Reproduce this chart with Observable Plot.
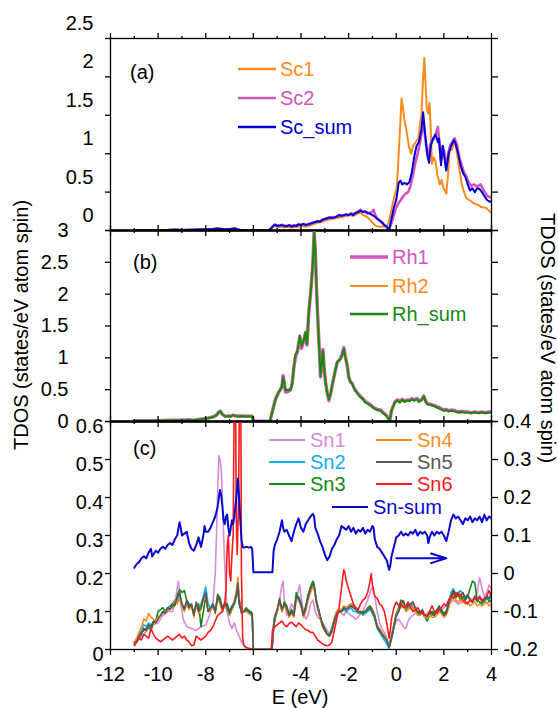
<!DOCTYPE html>
<html>
<head>
<meta charset="utf-8">
<script src="https://cdn.jsdelivr.net/npm/d3@7"></script>
<script src="https://cdn.jsdelivr.net/npm/@observablehq/plot@0.6"></script>
<style>
  html, body { margin: 0; padding: 0; background: #fff; }
  #chart { position: relative; width: 558px; height: 708px; overflow: hidden; }
  #chart svg { position: absolute; left: 0; overflow: visible; }
</style>
</head>
<body>
<div id="chart"></div>
<script>
// ---------- axis ticks ----------
const eDomain = [-12, 4];
const eMajor = [-12, -10, -8, -6, -4, -2, 0, 2, 4];
const eMinor = [-11, -9, -7, -5, -3, -1, 1, 3];
const yTicksA = [0, 0.5, 1, 1.5, 2, 2.5];
const yTicksB = [0, 0.5, 1, 1.5, 2, 2.5, 3];
const yTicksC = [0, 0.1, 0.2, 0.3, 0.4, 0.5, 0.6];
const yTicksCR = [-0.2, -0.1, 0, 0.1, 0.2, 0.3, 0.4];

// ---------- series names ----------
const scNames = ["Sc1", "Sc2", "Sc_sum"];
const rhNames = ["Rh1", "Rh2", "Rh_sum"];
const snNames = ["Sn1", "Sn2", "Sn3", "Sn4", "Sn5", "Sn6"];
const snSumName = "Sn-sum";
const panelTags = ["(a)", "(b)", "(c)"];
const yTitle = "TDOS (states/eV atom spin)";
const xTitle = "E (eV)";

// ---------- panel (a): Sc, [E, TDOS] ----------
const sc1 = [[-11,0],[-10.5,0],[-10,0.002],[-9.5,0.005],[-9.2,0.01],[-9,0.005],[-8.6,0.008],[-8.3,0.01],[-8,0.015],[-7.7,0.02],[-7.5,0.02],[-7.3,0.015],[-7,0.012],[-6.8,0.022],[-6.6,0.008],[-6.5,0],[-5.4,0],[-5.25,0.02],[-5.15,0.06],[-5.05,0.05],[-4.95,0.045],[-4.8,0.05],[-4.7,0.04],[-4.55,0.05],[-4.4,0.035],[-4.25,0.045],[-4.1,0.05],[-3.95,0.06],[-3.8,0.05],[-3.65,0.06],[-3.5,0.08],[-3.4,0.09],[-3.3,0.1],[-3.15,0.11],[-3,0.13],[-2.85,0.14],[-2.7,0.15],[-2.55,0.16],[-2.4,0.17],[-2.25,0.18],[-2.1,0.19],[-1.95,0.2],[-1.8,0.19],[-1.7,0.21],[-1.6,0.22],[-1.5,0.23],[-1.4,0.2],[-1.3,0.19],[-1.2,0.17],[-1.1,0.14],[-1,0.1],[-0.9,0.07],[-0.8,0.055],[-0.7,0.05],[-0.55,0.05],[-0.4,0.06],[-0.32,0.1],[-0.25,0.2],[-0.15,0.35],[-0.05,0.48],[0.02,0.55],[0.07,0.8],[0.12,1.1],[0.17,1.4],[0.22,1.72],[0.28,1.6],[0.34,1.45],[0.4,1.35],[0.46,1.24],[0.54,1.08],[0.63,1],[0.7,1.1],[0.78,1.13],[0.86,1.17],[0.93,1.2],[1,1.4],[1.06,1.5],[1.12,1.95],[1.18,2.25],[1.23,1.9],[1.28,1.6],[1.34,1.52],[1.4,1.66],[1.45,1.3],[1.5,0.87],[1.57,0.95],[1.65,0.9],[1.73,0.72],[1.83,0.6],[1.9,0.66],[1.98,0.55],[2.05,0.52],[2.1,0.48],[2.17,0.7],[2.25,1.09],[2.33,1.05],[2.42,1.15],[2.5,1.1],[2.58,0.95],[2.66,0.78],[2.75,0.6],[2.85,0.5],[2.95,0.42],[3.05,0.4],[3.15,0.38],[3.27,0.35],[3.4,0.34],[3.54,0.31],[3.65,0.3],[3.75,0.3],[3.85,0.27],[4,0.23]];
const sc2 = [[-11,0],[-10,0.002],[-9.6,0.006],[-9.3,0.012],[-9,0.006],[-8.6,0.01],[-8.3,0.012],[-8,0.016],[-7.7,0.02],[-7.5,0.026],[-7.3,0.02],[-7,0.016],[-6.8,0.028],[-6.6,0.01],[-6.5,0],[-5.35,0],[-5.22,0.04],[-5.12,0.07],[-5,0.065],[-4.9,0.06],[-4.8,0.075],[-4.7,0.06],[-4.6,0.06],[-4.5,0.07],[-4.4,0.055],[-4.3,0.065],[-4.2,0.06],[-4.1,0.08],[-4,0.075],[-3.9,0.085],[-3.8,0.075],[-3.7,0.08],[-3.6,0.09],[-3.5,0.1],[-3.4,0.11],[-3.3,0.12],[-3.2,0.12],[-3.1,0.14],[-3,0.15],[-2.9,0.16],[-2.8,0.17],[-2.7,0.17],[-2.6,0.175],[-2.5,0.18],[-2.4,0.2],[-2.3,0.195],[-2.2,0.2],[-2.1,0.21],[-2,0.2],[-1.9,0.22],[-1.8,0.21],[-1.7,0.23],[-1.6,0.25],[-1.5,0.27],[-1.4,0.24],[-1.3,0.24],[-1.2,0.22],[-1.1,0.23],[-1,0.25],[-0.95,0.27],[-0.88,0.2],[-0.8,0.16],[-0.7,0.13],[-0.6,0.1],[-0.5,0.07],[-0.4,0.04],[-0.3,0.01],[-0.2,0.1],[-0.1,0.2],[0,0.3],[0.1,0.36],[0.2,0.4],[0.3,0.45],[0.4,0.48],[0.5,0.5],[0.6,0.58],[0.7,0.72],[0.8,0.88],[0.9,1],[1,1.15],[1.08,1.3],[1.14,1.4],[1.2,1.25],[1.28,1.05],[1.35,0.92],[1.43,1.12],[1.52,1.18],[1.6,1.2],[1.68,1.28],[1.75,1.35],[1.82,1.1],[1.88,0.9],[1.95,1.1],[2.02,1.02],[2.1,0.8],[2.18,1],[2.28,1.12],[2.36,1.15],[2.45,1.2],[2.55,1.12],[2.65,0.95],[2.75,0.85],[2.85,0.75],[2.95,0.7],[3.05,0.62],[3.15,0.58],[3.27,0.6],[3.4,0.57],[3.54,0.6],[3.62,0.55],[3.72,0.5],[3.82,0.45],[3.9,0.44],[4,0.42]];
const scSum = [[-11,0],[-10,0],[-9.6,0.005],[-9.3,0.01],[-9,0.005],[-8.6,0.01],[-8.3,0.012],[-8,0.015],[-7.7,0.02],[-7.5,0.025],[-7.3,0.02],[-7,0.015],[-6.8,0.025],[-6.6,0.01],[-6.5,0],[-5.5,0],[-5.3,0.01],[-5.2,0.05],[-5.1,0.08],[-5,0.06],[-4.9,0.065],[-4.8,0.07],[-4.7,0.06],[-4.6,0.055],[-4.5,0.07],[-4.4,0.05],[-4.3,0.065],[-4.2,0.06],[-4.1,0.08],[-4,0.07],[-3.9,0.085],[-3.8,0.07],[-3.7,0.08],[-3.6,0.09],[-3.5,0.1],[-3.4,0.11],[-3.3,0.12],[-3.2,0.115],[-3.1,0.14],[-3,0.15],[-2.9,0.16],[-2.8,0.17],[-2.7,0.165],[-2.6,0.17],[-2.5,0.18],[-2.4,0.2],[-2.3,0.19],[-2.2,0.2],[-2.1,0.21],[-2,0.2],[-1.9,0.22],[-1.8,0.2],[-1.7,0.23],[-1.6,0.24],[-1.5,0.26],[-1.4,0.24],[-1.3,0.25],[-1.2,0.23],[-1.1,0.22],[-1,0.2],[-0.9,0.18],[-0.8,0.15],[-0.7,0.13],[-0.6,0.11],[-0.5,0.07],[-0.4,0.05],[-0.3,0.01],[-0.2,0.15],[-0.1,0.3],[0,0.4],[0.05,0.5],[0.1,0.62],[0.18,0.65],[0.25,0.6],[0.35,0.62],[0.45,0.6],[0.55,0.63],[0.65,0.75],[0.75,0.95],[0.85,1.1],[0.95,1.15],[1.05,1.3],[1.13,1.54],[1.2,1.3],[1.3,1],[1.38,0.88],[1.45,1.1],[1.55,1.2],[1.65,1.25],[1.75,1.15],[1.8,1.2],[1.88,0.85],[1.95,1.1],[2,1],[2.1,0.78],[2.2,1],[2.3,1.1],[2.42,1.18],[2.5,1.12],[2.6,1],[2.7,0.85],[2.8,0.75],[2.9,0.7],[3,0.6],[3.1,0.52],[3.2,0.55],[3.3,0.5],[3.4,0.55],[3.5,0.54],[3.6,0.5],[3.7,0.45],[3.8,0.4],[3.9,0.38],[4,0.37]];

// ---------- panel (b): Rh ----------
const rh1 = [[-11,0.012],[-10.6,0.014],[-10.2,0.012],[-9.8,0.017],[-9.4,0.022],[-9,0.02],[-8.7,0.027],[-8.5,0.022],[-8.3,0.032],[-8.1,0.042],[-7.9,0.052],[-7.7,0.072],[-7.55,0.1],[-7.45,0.15],[-7.38,0.16],[-7.3,0.11],[-7.17,0.08],[-7.05,0.087],[-6.95,0.082],[-6.85,0.1],[-6.78,0.09],[-6.65,0.082],[-6.5,0.087],[-6.35,0.082],[-6.2,0.084],[-6.05,0.082],[-6,0.005],[-5.3,0.005],[-5.21,0.15],[-5.12,0.28],[-5.07,0.35],[-4.95,0.45],[-4.86,0.5],[-4.8,0.56],[-4.75,0.72],[-4.7,0.6],[-4.65,0.46],[-4.55,0.47],[-4.44,0.5],[-4.37,0.6],[-4.3,0.85],[-4.23,1.02],[-4.15,1.1],[-4.05,1.33],[-3.98,1.15],[-3.9,1.25],[-3.81,1.4],[-3.75,1.2],[-3.67,1.72],[-3.6,2],[-3.56,2.18],[-3.5,2.5],[-3.45,2.97],[-3.4,2.7],[-3.35,2.1],[-3.3,1.66],[-3.24,1.2],[-3.18,0.7],[-3.13,0.9],[-3.08,1.13],[-3.03,0.85],[-2.97,0.62],[-2.9,0.45],[-2.83,0.33],[-2.75,0.45],[-2.65,0.64],[-2.56,0.8],[-2.48,0.93],[-2.4,0.96],[-2.34,0.99],[-2.27,1.06],[-2.2,1.16],[-2.13,1],[-2.06,0.88],[-1.99,0.69],[-1.92,0.62],[-1.85,0.6],[-1.75,0.51],[-1.65,0.46],[-1.5,0.39],[-1.4,0.36],[-1.3,0.31],[-1.2,0.29],[-1.08,0.26],[-0.95,0.22],[-0.8,0.19],[-0.66,0.18],[-0.55,0.14],[-0.45,0.11],[-0.38,0.08],[-0.27,0.02],[-0.2,0.17],[-0.12,0.25],[-0.05,0.31],[0.05,0.34],[0.15,0.31],[0.25,0.35],[0.35,0.32],[0.46,0.34],[0.55,0.33],[0.65,0.36],[0.75,0.34],[0.88,0.36],[0.95,0.32],[1.05,0.34],[1.16,0.4],[1.22,0.33],[1.3,0.28],[1.45,0.27],[1.6,0.25],[1.72,0.23],[1.85,0.21],[2,0.18],[2.1,0.19],[2.2,0.17],[2.35,0.18],[2.45,0.17],[2.6,0.15],[2.75,0.16],[2.9,0.15],[3,0.15],[3.15,0.14],[3.3,0.15],[3.45,0.14],[3.6,0.15],[3.75,0.14],[3.9,0.15],[4,0.15]];
const rh2 = [[-11,0.01],[-10.6,0.012],[-10.2,0.01],[-9.8,0.015],[-9.4,0.02],[-9,0.018],[-8.7,0.025],[-8.5,0.02],[-8.3,0.03],[-8.1,0.04],[-7.9,0.05],[-7.7,0.07],[-7.55,0.1],[-7.45,0.15],[-7.38,0.16],[-7.3,0.11],[-7.17,0.08],[-7.05,0.085],[-6.95,0.08],[-6.85,0.1],[-6.78,0.09],[-6.65,0.08],[-6.5,0.085],[-6.35,0.08],[-6.2,0.082],[-6.05,0.08],[-6,0.003],[-5.3,0.003],[-5.21,0.16],[-5.12,0.29],[-5.07,0.36],[-4.95,0.45],[-4.86,0.52],[-4.8,0.55],[-4.75,0.68],[-4.7,0.6],[-4.65,0.5],[-4.55,0.5],[-4.44,0.49],[-4.37,0.59],[-4.3,0.86],[-4.23,1.07],[-4.15,1.1],[-4.05,1.35],[-3.98,1.2],[-3.9,1.25],[-3.81,1.41],[-3.75,1.23],[-3.67,1.77],[-3.6,2],[-3.56,2.18],[-3.5,2.5],[-3.45,2.95],[-3.4,2.7],[-3.35,2.1],[-3.3,1.66],[-3.24,1.2],[-3.18,0.73],[-3.13,0.9],[-3.08,1.1],[-3.03,0.85],[-2.97,0.63],[-2.9,0.46],[-2.83,0.36],[-2.75,0.46],[-2.65,0.65],[-2.56,0.8],[-2.48,0.93],[-2.4,0.96],[-2.34,0.98],[-2.27,1.05],[-2.2,1.13],[-2.13,1],[-2.06,0.88],[-1.99,0.7],[-1.92,0.62],[-1.85,0.59],[-1.75,0.5],[-1.65,0.45],[-1.5,0.38],[-1.4,0.35],[-1.3,0.3],[-1.2,0.28],[-1.08,0.25],[-0.95,0.21],[-0.8,0.18],[-0.66,0.17],[-0.55,0.13],[-0.45,0.1],[-0.38,0.07],[-0.27,0.02],[-0.2,0.17],[-0.12,0.24],[-0.05,0.3],[0.05,0.33],[0.15,0.3],[0.25,0.34],[0.35,0.31],[0.46,0.33],[0.55,0.32],[0.65,0.35],[0.75,0.33],[0.88,0.35],[0.95,0.31],[1.05,0.33],[1.16,0.39],[1.22,0.32],[1.3,0.27],[1.45,0.26],[1.6,0.24],[1.72,0.22],[1.85,0.2],[2,0.17],[2.1,0.18],[2.2,0.16],[2.35,0.17],[2.45,0.16],[2.6,0.14],[2.75,0.15],[2.9,0.14],[3,0.14],[3.15,0.13],[3.3,0.145],[3.45,0.13],[3.6,0.14],[3.75,0.13],[3.9,0.14],[4,0.14]];
const rhSum = [[-11,0.01],[-10.6,0.012],[-10.2,0.01],[-9.8,0.015],[-9.4,0.02],[-9,0.018],[-8.7,0.025],[-8.5,0.02],[-8.3,0.03],[-8.1,0.04],[-7.9,0.05],[-7.7,0.07],[-7.55,0.1],[-7.45,0.15],[-7.38,0.16],[-7.3,0.11],[-7.17,0.08],[-7.05,0.085],[-6.95,0.08],[-6.85,0.1],[-6.78,0.09],[-6.65,0.08],[-6.5,0.085],[-6.35,0.08],[-6.2,0.082],[-6.05,0.08],[-6,0.003],[-5.3,0.003],[-5.21,0.15],[-5.12,0.28],[-5.07,0.35],[-4.95,0.45],[-4.86,0.51],[-4.8,0.55],[-4.75,0.69],[-4.7,0.6],[-4.65,0.49],[-4.55,0.5],[-4.44,0.49],[-4.37,0.59],[-4.3,0.85],[-4.23,1.06],[-4.15,1.1],[-4.05,1.35],[-3.98,1.19],[-3.9,1.25],[-3.81,1.4],[-3.75,1.22],[-3.67,1.76],[-3.6,2],[-3.56,2.18],[-3.5,2.5],[-3.45,2.96],[-3.4,2.7],[-3.35,2.1],[-3.3,1.66],[-3.24,1.2],[-3.18,0.72],[-3.13,0.9],[-3.08,1.11],[-3.03,0.85],[-2.97,0.62],[-2.9,0.45],[-2.83,0.35],[-2.75,0.45],[-2.65,0.64],[-2.56,0.8],[-2.48,0.93],[-2.4,0.96],[-2.34,0.98],[-2.27,1.05],[-2.2,1.14],[-2.13,1],[-2.06,0.88],[-1.99,0.69],[-1.92,0.62],[-1.85,0.59],[-1.75,0.5],[-1.65,0.45],[-1.5,0.38],[-1.4,0.35],[-1.3,0.3],[-1.2,0.28],[-1.08,0.25],[-0.95,0.21],[-0.8,0.18],[-0.66,0.17],[-0.55,0.13],[-0.45,0.1],[-0.38,0.07],[-0.27,0.02],[-0.2,0.17],[-0.12,0.24],[-0.05,0.3],[0.05,0.33],[0.15,0.3],[0.25,0.34],[0.35,0.31],[0.46,0.33],[0.55,0.32],[0.65,0.35],[0.75,0.33],[0.88,0.35],[0.95,0.31],[1.05,0.33],[1.16,0.4],[1.22,0.32],[1.3,0.27],[1.45,0.26],[1.6,0.24],[1.72,0.22],[1.85,0.2],[2,0.17],[2.1,0.18],[2.2,0.16],[2.35,0.17],[2.45,0.16],[2.6,0.14],[2.75,0.15],[2.9,0.14],[3,0.14],[3.15,0.13],[3.3,0.145],[3.45,0.13],[3.6,0.14],[3.75,0.13],[3.9,0.14],[4,0.14]];

// ---------- panel (c): Sn sites (left axis) ----------
const sn1 = [[-11,0.012],[-10.8,0.03],[-10.6,0.04],[-10.4,0.055],[-10.2,0.065],[-10,0.07],[-9.8,0.09],[-9.6,0.1],[-9.4,0.1],[-9.3,0.12],[-9.2,0.16],[-9.15,0.18],[-9.05,0.12],[-8.95,0.08],[-8.8,0.06],[-8.6,0.055],[-8.4,0.05],[-8.2,0.06],[-8,0.065],[-7.9,0.08],[-7.8,0.1],[-7.7,0.12],[-7.6,0.2],[-7.55,0.3],[-7.5,0.42],[-7.45,0.51],[-7.4,0.5],[-7.35,0.47],[-7.3,0.4],[-7.25,0.3],[-7.2,0.22],[-7.15,0.15],[-7.1,0.1],[-7,0.07],[-6.9,0.055],[-6.8,0.07],[-6.7,0.05],[-6.6,0.035],[-6.5,0.02],[-6.4,0.01],[-6.3,0.005],[-6.2,0],[-5.22,0],[-5.15,0.06],[-5,0.1],[-4.9,0.13],[-4.8,0.17],[-4.75,0.18],[-4.7,0.13],[-4.6,0.09],[-4.5,0.1],[-4.4,0.12],[-4.3,0.11],[-4.2,0.13],[-4.1,0.16],[-4.05,0.17],[-4,0.14],[-3.9,0.1],[-3.8,0.08],[-3.7,0.09],[-3.6,0.12],[-3.5,0.13],[-3.4,0.1],[-3.3,0.085],[-3.2,0.08],[-3.1,0.07],[-3,0.06],[-2.9,0.05],[-2.8,0.04],[-2.7,0.06],[-2.6,0.08],[-2.5,0.09],[-2.4,0.1],[-2.3,0.095],[-2.2,0.09],[-2.1,0.1],[-2,0.095],[-1.9,0.09],[-1.8,0.085],[-1.7,0.08],[-1.6,0.085],[-1.5,0.095],[-1.4,0.1],[-1.3,0.115],[-1.2,0.13],[-1.1,0.15],[-1,0.165],[-0.9,0.14],[-0.8,0.1],[-0.7,0.07],[-0.6,0.055],[-0.5,0.045],[-0.4,0.03],[-0.3,0.01],[-0.2,0.04],[-0.1,0.06],[0,0.075],[0.1,0.08],[0.2,0.07],[0.3,0.06],[0.4,0.055],[0.5,0.075],[0.6,0.085],[0.8,0.095],[1,0.1],[1.2,0.09],[1.4,0.1],[1.6,0.095],[1.8,0.1],[2,0.11],[2.2,0.12],[2.4,0.13],[2.6,0.12],[2.8,0.125],[3,0.14],[3.2,0.13],[3.4,0.15],[3.5,0.19],[3.6,0.16],[3.7,0.14],[3.8,0.15],[3.9,0.17],[4,0.16]];
const sn2 = [[-11,0.018],[-10.9,0.025],[-10.8,0.04],[-10.7,0.05],[-10.6,0.065],[-10.5,0.06],[-10.4,0.07],[-10.3,0.065],[-10.2,0.07],[-10.1,0.075],[-10,0.085],[-9.9,0.09],[-9.8,0.1],[-9.7,0.1],[-9.6,0.11],[-9.5,0.115],[-9.4,0.12],[-9.3,0.13],[-9.2,0.125],[-9.1,0.14],[-9,0.12],[-8.9,0.11],[-8.8,0.125],[-8.7,0.11],[-8.6,0.115],[-8.5,0.095],[-8.4,0.12],[-8.3,0.105],[-8.2,0.12],[-8.1,0.14],[-8,0.165],[-7.9,0.12],[-7.8,0.11],[-7.7,0.12],[-7.6,0.105],[-7.5,0.135],[-7.4,0.125],[-7.3,0.11],[-7.2,0.12],[-7.1,0.1],[-7,0.09],[-6.9,0.105],[-6.8,0.12],[-6.7,0.14],[-6.65,0.165],[-6.6,0.125],[-6.5,0.1],[-6.4,0.1],[-6.3,0.1],[-6.2,0.105],[-6.1,0.095],[-6.05,0.09],[-6,0],[-5.22,0],[-5.15,0.055],[-5.1,0.08],[-5,0.1],[-4.9,0.125],[-4.8,0.11],[-4.7,0.115],[-4.6,0.105],[-4.5,0.09],[-4.4,0.095],[-4.3,0.095],[-4.2,0.135],[-4.1,0.14],[-4,0.125],[-3.9,0.095],[-3.8,0.105],[-3.7,0.135],[-3.6,0.155],[-3.5,0.17],[-3.45,0.165],[-3.35,0.13],[-3.2,0.09],[-3.1,0.06],[-3,0.05],[-2.9,0.04],[-2.8,0.035],[-2.7,0.045],[-2.6,0.07],[-2.5,0.09],[-2.4,0.1],[-2.3,0.1],[-2.2,0.105],[-2.1,0.1],[-2,0.105],[-1.9,0.11],[-1.8,0.1],[-1.7,0.1],[-1.6,0.095],[-1.5,0.1],[-1.4,0.09],[-1.3,0.095],[-1.2,0.1],[-1.1,0.105],[-1,0.095],[-0.9,0.08],[-0.8,0.055],[-0.7,0.045],[-0.6,0.035],[-0.5,0.025],[-0.4,0.015],[-0.3,0.003],[-0.2,0.025],[-0.1,0.055],[0,0.085],[0.1,0.1],[0.2,0.115],[0.3,0.12],[0.4,0.1],[0.5,0.11],[0.6,0.115],[0.7,0.12],[0.8,0.105],[0.9,0.095],[1,0.09],[1.1,0.1],[1.2,0.085],[1.3,0.085],[1.4,0.095],[1.5,0.09],[1.6,0.09],[1.7,0.1],[1.8,0.105],[1.9,0.1],[2,0.09],[2.1,0.1],[2.2,0.125],[2.3,0.15],[2.4,0.16],[2.5,0.145],[2.6,0.15],[2.7,0.155],[2.8,0.145],[2.9,0.14],[3,0.14],[3.1,0.13],[3.2,0.13],[3.3,0.135],[3.4,0.125],[3.5,0.135],[3.6,0.13],[3.7,0.125],[3.8,0.135],[3.9,0.13],[4,0.14]];
const sn3 = [[-11,0.02],[-10.9,0.02],[-10.8,0.03],[-10.7,0.045],[-10.6,0.05],[-10.5,0.055],[-10.4,0.06],[-10.3,0.05],[-10.2,0.07],[-10.1,0.075],[-10,0.1],[-9.9,0.105],[-9.8,0.11],[-9.7,0.1],[-9.6,0.105],[-9.5,0.11],[-9.4,0.12],[-9.3,0.115],[-9.2,0.14],[-9.1,0.158],[-9,0.15],[-8.9,0.155],[-8.8,0.13],[-8.7,0.12],[-8.6,0.11],[-8.5,0.1],[-8.4,0.11],[-8.3,0.12],[-8.2,0.06],[-8.1,0.1],[-8,0.14],[-7.9,0.1],[-7.8,0.105],[-7.7,0.12],[-7.6,0.095],[-7.5,0.145],[-7.4,0.135],[-7.3,0.11],[-7.2,0.115],[-7.1,0.12],[-7,0.1],[-6.9,0.115],[-6.8,0.125],[-6.7,0.15],[-6.65,0.165],[-6.6,0.12],[-6.5,0.1],[-6.4,0.1],[-6.3,0.11],[-6.2,0.1],[-6.1,0.1],[-6.05,0.095],[-6,0],[-5.22,0],[-5.15,0.065],[-5.1,0.09],[-5,0.1],[-4.9,0.135],[-4.8,0.1],[-4.7,0.125],[-4.6,0.115],[-4.5,0.09],[-4.4,0.105],[-4.3,0.09],[-4.2,0.15],[-4.1,0.13],[-4,0.115],[-3.9,0.09],[-3.8,0.115],[-3.7,0.145],[-3.6,0.165],[-3.5,0.18],[-3.45,0.172],[-3.35,0.12],[-3.2,0.085],[-3.1,0.07],[-3,0.055],[-2.9,0.04],[-2.8,0.04],[-2.7,0.055],[-2.6,0.08],[-2.5,0.1],[-2.4,0.105],[-2.3,0.1],[-2.2,0.11],[-2.1,0.11],[-2,0.115],[-1.9,0.12],[-1.8,0.115],[-1.7,0.11],[-1.6,0.1],[-1.5,0.095],[-1.4,0.1],[-1.3,0.1],[-1.2,0.11],[-1.1,0.115],[-1,0.105],[-0.9,0.09],[-0.8,0.06],[-0.7,0.05],[-0.6,0.045],[-0.5,0.035],[-0.4,0.025],[-0.3,0.01],[-0.2,0.035],[-0.1,0.065],[0,0.095],[0.1,0.11],[0.2,0.13],[0.3,0.125],[0.4,0.105],[0.5,0.12],[0.6,0.115],[0.7,0.11],[0.8,0.1],[0.9,0.095],[1,0.1],[1.1,0.095],[1.2,0.085],[1.3,0.075],[1.4,0.09],[1.5,0.1],[1.6,0.095],[1.7,0.1],[1.8,0.115],[1.9,0.105],[2,0.095],[2.1,0.1],[2.2,0.115],[2.3,0.135],[2.4,0.15],[2.5,0.135],[2.6,0.145],[2.7,0.13],[2.8,0.14],[2.9,0.13],[3,0.14],[3.1,0.16],[3.2,0.18],[3.3,0.175],[3.4,0.13],[3.5,0.125],[3.6,0.12],[3.7,0.13],[3.8,0.14],[3.9,0.125],[4,0.13]];
const sn4 = [[-11,0.02],[-10.9,0.03],[-10.8,0.045],[-10.7,0.06],[-10.6,0.08],[-10.5,0.075],[-10.4,0.095],[-10.3,0.085],[-10.2,0.08],[-10.1,0.075],[-10,0.085],[-9.9,0.09],[-9.8,0.095],[-9.7,0.1],[-9.6,0.1],[-9.5,0.11],[-9.4,0.11],[-9.3,0.13],[-9.2,0.12],[-9.1,0.135],[-9,0.115],[-8.9,0.1],[-8.8,0.12],[-8.7,0.105],[-8.6,0.12],[-8.5,0.085],[-8.4,0.12],[-8.3,0.095],[-8.2,0.105],[-8.1,0.13],[-8,0.145],[-7.9,0.1],[-7.8,0.105],[-7.7,0.11],[-7.6,0.1],[-7.5,0.13],[-7.4,0.12],[-7.3,0.1],[-7.2,0.12],[-7.1,0.105],[-7,0.09],[-6.9,0.105],[-6.8,0.125],[-6.7,0.16],[-6.65,0.19],[-6.6,0.14],[-6.5,0.1],[-6.4,0.1],[-6.3,0.1],[-6.2,0.095],[-6.1,0.09],[-6.05,0.085],[-6,0],[-5.22,0],[-5.15,0.06],[-5.1,0.085],[-5,0.1],[-4.9,0.125],[-4.8,0.1],[-4.7,0.115],[-4.6,0.105],[-4.5,0.085],[-4.4,0.095],[-4.3,0.085],[-4.2,0.13],[-4.1,0.13],[-4,0.115],[-3.9,0.085],[-3.8,0.1],[-3.7,0.13],[-3.6,0.15],[-3.5,0.165],[-3.45,0.16],[-3.35,0.12],[-3.2,0.085],[-3.1,0.06],[-3,0.05],[-2.9,0.04],[-2.8,0.035],[-2.7,0.05],[-2.6,0.08],[-2.5,0.1],[-2.4,0.105],[-2.3,0.105],[-2.2,0.115],[-2.1,0.11],[-2,0.115],[-1.9,0.12],[-1.8,0.11],[-1.7,0.105],[-1.6,0.1],[-1.5,0.1],[-1.4,0.095],[-1.3,0.1],[-1.2,0.105],[-1.1,0.11],[-1,0.1],[-0.9,0.085],[-0.8,0.065],[-0.7,0.055],[-0.6,0.045],[-0.5,0.035],[-0.4,0.025],[-0.3,0.012],[-0.2,0.035],[-0.1,0.065],[0,0.09],[0.1,0.105],[0.2,0.11],[0.3,0.12],[0.4,0.1],[0.5,0.105],[0.6,0.11],[0.7,0.115],[0.8,0.1],[0.9,0.09],[1,0.09],[1.1,0.095],[1.2,0.085],[1.3,0.085],[1.4,0.09],[1.5,0.085],[1.6,0.085],[1.7,0.09],[1.8,0.1],[1.9,0.095],[2,0.085],[2.1,0.09],[2.2,0.11],[2.3,0.13],[2.4,0.14],[2.5,0.13],[2.6,0.125],[2.7,0.13],[2.8,0.125],[2.9,0.12],[3,0.125],[3.1,0.115],[3.2,0.12],[3.3,0.125],[3.4,0.115],[3.5,0.12],[3.6,0.115],[3.7,0.12],[3.8,0.125],[3.9,0.115],[4,0.12]];
const sn5 = [[-11,0.015],[-10.9,0.02],[-10.8,0.035],[-10.7,0.04],[-10.6,0.055],[-10.5,0.05],[-10.4,0.065],[-10.3,0.06],[-10.2,0.075],[-10.1,0.07],[-10,0.08],[-9.9,0.09],[-9.8,0.1],[-9.7,0.095],[-9.6,0.11],[-9.5,0.105],[-9.4,0.115],[-9.3,0.12],[-9.2,0.135],[-9.1,0.15],[-9,0.12],[-8.9,0.105],[-8.8,0.13],[-8.7,0.11],[-8.6,0.12],[-8.5,0.09],[-8.4,0.125],[-8.3,0.1],[-8.2,0.11],[-8.1,0.135],[-8,0.15],[-7.9,0.1],[-7.8,0.11],[-7.7,0.115],[-7.6,0.1],[-7.5,0.14],[-7.4,0.13],[-7.3,0.105],[-7.2,0.125],[-7.1,0.11],[-7,0.095],[-6.9,0.11],[-6.8,0.12],[-6.7,0.15],[-6.65,0.175],[-6.6,0.13],[-6.5,0.095],[-6.4,0.1],[-6.3,0.105],[-6.2,0.1],[-6.1,0.095],[-6.05,0.09],[-6,0],[-5.22,0],[-5.15,0.06],[-5.1,0.085],[-5,0.105],[-4.9,0.13],[-4.8,0.105],[-4.7,0.12],[-4.6,0.11],[-4.5,0.09],[-4.4,0.1],[-4.3,0.09],[-4.2,0.14],[-4.1,0.135],[-4,0.12],[-3.9,0.09],[-3.8,0.11],[-3.7,0.14],[-3.6,0.16],[-3.5,0.175],[-3.45,0.168],[-3.35,0.125],[-3.2,0.09],[-3.1,0.065],[-3,0.05],[-2.9,0.04],[-2.8,0.035],[-2.7,0.05],[-2.6,0.075],[-2.5,0.095],[-2.4,0.1],[-2.3,0.1],[-2.2,0.11],[-2.1,0.105],[-2,0.11],[-1.9,0.115],[-1.8,0.11],[-1.7,0.105],[-1.6,0.1],[-1.5,0.1],[-1.4,0.095],[-1.3,0.1],[-1.2,0.105],[-1.1,0.11],[-1,0.1],[-0.9,0.085],[-0.8,0.06],[-0.7,0.05],[-0.6,0.04],[-0.5,0.032],[-0.4,0.025],[-0.3,0.006],[-0.2,0.03],[-0.1,0.06],[0,0.09],[0.1,0.1],[0.2,0.12],[0.3,0.128],[0.4,0.11],[0.5,0.115],[0.6,0.12],[0.7,0.125],[0.8,0.11],[0.9,0.1],[1,0.095],[1.1,0.105],[1.2,0.09],[1.3,0.088],[1.4,0.1],[1.5,0.095],[1.6,0.09],[1.7,0.105],[1.8,0.11],[1.9,0.1],[2,0.09],[2.1,0.095],[2.2,0.12],[2.3,0.14],[2.4,0.155],[2.5,0.14],[2.6,0.15],[2.7,0.14],[2.8,0.15],[2.9,0.135],[3,0.145],[3.1,0.13],[3.2,0.125],[3.3,0.14],[3.4,0.13],[3.5,0.14],[3.6,0.125],[3.7,0.13],[3.8,0.14],[3.9,0.135],[4,0.15]];
const sn6 = [[-11,0.01],[-10.9,0.02],[-10.8,0.03],[-10.7,0.025],[-10.6,0.04],[-10.5,0.035],[-10.4,0.03],[-10.3,0.055],[-10.2,0.04],[-10.1,0.03],[-10,0.025],[-9.9,0.02],[-9.8,0.025],[-9.7,0.03],[-9.6,0.035],[-9.5,0.03],[-9.4,0.025],[-9.3,0.03],[-9.2,0.035],[-9.1,0.04],[-9,0.03],[-8.9,0.035],[-8.8,0.025],[-8.7,0.02],[-8.6,0.01],[-8.5,0.012],[-8.4,0.035],[-8.3,0.03],[-8.2,0.025],[-8.1,0.03],[-8,0.035],[-7.9,0.045],[-7.8,0.05],[-7.7,0.06],[-7.6,0.075],[-7.5,0.09],[-7.4,0.095],[-7.3,0.1],[-7.2,0.12],[-7.15,0.16],[-7.1,0.27],[-7.05,0.3],[-7,0.2],[-6.95,0.18],[-6.9,0.25],[-6.85,0.3],[-6.8,0.7],[-6.75,0.7],[-6.72,0.35],[-6.68,0.25],[-6.62,0.4],[-6.58,0.7],[-6.53,0.7],[-6.5,0.2],[-6.45,0.03],[-6.4,0.01],[-6.3,0.005],[-6,0],[-5.25,0],[-5.2,0.05],[-5.1,0.06],[-5,0.065],[-4.9,0.07],[-4.8,0.075],[-4.7,0.065],[-4.6,0.06],[-4.5,0.068],[-4.4,0.072],[-4.3,0.066],[-4.2,0.06],[-4.1,0.07],[-4,0.065],[-3.9,0.058],[-3.8,0.052],[-3.7,0.05],[-3.6,0.045],[-3.5,0.045],[-3.4,0.035],[-3.3,0.025],[-3.2,0.02],[-3.1,0.015],[-3,0.012],[-2.9,0.01],[-2.8,0.012],[-2.7,0.02],[-2.6,0.05],[-2.5,0.08],[-2.4,0.11],[-2.3,0.16],[-2.25,0.19],[-2.2,0.21],[-2.15,0.2],[-2.1,0.18],[-2,0.16],[-1.9,0.14],[-1.8,0.12],[-1.7,0.11],[-1.6,0.105],[-1.5,0.12],[-1.4,0.13],[-1.3,0.135],[-1.2,0.15],[-1.1,0.18],[-1.05,0.2],[-1,0.17],[-0.9,0.14],[-0.8,0.135],[-0.7,0.12],[-0.6,0.115],[-0.5,0.1],[-0.4,0.07],[-0.3,0.03],[-0.25,0.05],[-0.2,0.08],[-0.1,0.11],[0,0.125],[0.1,0.115],[0.2,0.12],[0.3,0.11],[0.4,0.115],[0.5,0.125],[0.6,0.11],[0.7,0.1],[0.8,0.105],[0.9,0.11],[1,0.1],[1.1,0.095],[1.2,0.09],[1.3,0.088],[1.4,0.1],[1.5,0.115],[1.6,0.1],[1.7,0.095],[1.8,0.105],[1.9,0.11],[2,0.12],[2.1,0.115],[2.2,0.13],[2.3,0.14],[2.4,0.135],[2.5,0.15],[2.6,0.14],[2.7,0.145],[2.8,0.13],[2.9,0.125],[3,0.12],[3.1,0.13],[3.2,0.125],[3.3,0.135],[3.4,0.13],[3.5,0.14],[3.6,0.13],[3.7,0.135],[3.8,0.14],[3.9,0.155],[4,0.14]];

// ---------- panel (c): Sn sum (right axis) ----------
const snSum = [[-11,0.015],[-10.9,0.025],[-10.8,0.03],[-10.7,0.04],[-10.6,0.045],[-10.5,0.04],[-10.4,0.055],[-10.3,0.065],[-10.25,0.045],[-10.2,0.05],[-10.1,0.06],[-10,0.055],[-9.9,0.065],[-9.8,0.07],[-9.7,0.065],[-9.6,0.075],[-9.5,0.08],[-9.4,0.075],[-9.3,0.09],[-9.2,0.1],[-9.1,0.135],[-9.05,0.12],[-9,0.1],[-8.9,0.105],[-8.8,0.11],[-8.7,0.08],[-8.6,0.065],[-8.5,0.06],[-8.4,0.075],[-8.3,0.095],[-8.2,0.07],[-8.1,0.1],[-8.05,0.125],[-8,0.11],[-7.9,0.11],[-7.8,0.12],[-7.7,0.135],[-7.6,0.15],[-7.5,0.175],[-7.45,0.2],[-7.4,0.22],[-7.35,0.205],[-7.3,0.175],[-7.25,0.14],[-7.2,0.13],[-7.15,0.15],[-7.1,0.155],[-7.05,0.12],[-7,0.1],[-6.95,0.12],[-6.9,0.14],[-6.85,0.13],[-6.8,0.15],[-6.75,0.18],[-6.7,0.21],[-6.65,0.25],[-6.6,0.2],[-6.55,0.14],[-6.5,0.09],[-6.45,0.07],[-6.4,0.068],[-6.3,0.07],[-6.2,0.068],[-6.1,0.07],[-6.05,0.065],[-6,0.003],[-5.2,0.003],[-5.15,0.06],[-5.1,0.075],[-5,0.09],[-4.9,0.11],[-4.8,0.14],[-4.75,0.12],[-4.7,0.11],[-4.6,0.115],[-4.5,0.1],[-4.4,0.085],[-4.3,0.11],[-4.2,0.13],[-4.1,0.145],[-4,0.12],[-3.9,0.11],[-3.8,0.13],[-3.7,0.14],[-3.6,0.15],[-3.5,0.157],[-3.45,0.15],[-3.4,0.12],[-3.3,0.105],[-3.2,0.085],[-3.1,0.07],[-3,0.05],[-2.9,0.035],[-2.8,0.045],[-2.7,0.065],[-2.6,0.075],[-2.5,0.09],[-2.4,0.1],[-2.3,0.125],[-2.2,0.12],[-2.1,0.115],[-2,0.125],[-1.9,0.11],[-1.8,0.12],[-1.7,0.105],[-1.6,0.115],[-1.5,0.11],[-1.4,0.12],[-1.3,0.105],[-1.2,0.115],[-1.1,0.11],[-1,0.125],[-0.95,0.12],[-0.9,0.09],[-0.8,0.07],[-0.7,0.065],[-0.6,0.055],[-0.5,0.045],[-0.4,0.035],[-0.3,0.01],[-0.25,0.02],[-0.2,0.045],[-0.1,0.07],[0,0.095],[0.1,0.1],[0.2,0.11],[0.3,0.1],[0.4,0.105],[0.5,0.1],[0.6,0.11],[0.7,0.105],[0.8,0.115],[0.9,0.1],[1,0.11],[1.1,0.105],[1.2,0.11],[1.3,0.1],[1.35,0.08],[1.4,0.095],[1.5,0.11],[1.6,0.1],[1.7,0.11],[1.8,0.105],[1.9,0.11],[2,0.1],[2.1,0.085],[2.2,0.11],[2.3,0.14],[2.4,0.155],[2.5,0.145],[2.6,0.15],[2.7,0.14],[2.8,0.13],[2.9,0.145],[3,0.14],[3.1,0.15],[3.2,0.135],[3.3,0.145],[3.4,0.14],[3.5,0.15],[3.6,0.135],[3.7,0.155],[3.8,0.14],[3.9,0.15],[4,0.145]];
// arrow telling that Sn-sum is read on the right axis
const snSumArrow = [{x1: 0, x2: 2.1, y: 0.04}];

// ---------- styles ----------
const FONT = '"Liberation Sans", Arial, Helvetica, sans-serif';
const FS = 20;
const colors = {
  orange: "#ff8a1c", magenta: "#d553c0", blue: "#0000d4", green: "#138a13",
  plum: "#d88bd9", cyan: "#12aeea", gray: "#575757", red: "#ff1a1a", sumBlue: "#0a0acc"
};
const scColors = [colors.orange, colors.magenta, colors.blue];
const scWidths = [2, 2.6, 2];
const rhColors = [colors.magenta, colors.orange, colors.green];
const rhWidths = [3.4, 2, 2];
const snColors = [colors.plum, colors.cyan, colors.green, colors.orange, colors.gray, colors.red];

const W = 558, H = 708, ML = 110, MR = 67;
const chart = document.getElementById("chart");

const pair = {x: d => d[0], y: d => d[1]};

function xTicks(anchor) {
  return [
    Plot.axisX({anchor, ticks: eMajor, tickSize: 6, tickFormat: () => "", strokeWidth: 1.3, label: null}),
    Plot.axisX({anchor, ticks: eMinor, tickSize: 3, tickFormat: () => "", strokeWidth: 1.3, label: null})
  ];
}
function yTicks(ticks, anchor, size) {
  return Plot.axisY({anchor, ticks, tickSize: size, tickFormat: () => "", strokeWidth: 1.3, label: null});
}
function yLabels(ticks, anchor, pad, dy) {
  return Plot.axisY({anchor, ticks, tickSize: 0, tickPadding: pad, dy, tickFormat: d => String(d),
    fontSize: FS, fontFamily: FONT, label: null});
}

function addPanel(top, height, marginTop, marginBottom, yDomain, marks, xAxis = true) {
  const svg = Plot.plot({
    width: W, height, marginLeft: ML, marginRight: MR, marginTop, marginBottom,
    x: xAxis ? {domain: eDomain, label: null} : {domain: eDomain, label: null, axis: null},
    y: {domain: yDomain, label: null},
    style: {background: "transparent", overflow: "visible", fontFamily: FONT, color: "#000"},
    marks
  });
  svg.style.top = top + "px";
  chart.appendChild(svg);
}

// panel (a)
addPanel(0, 242, 38, 12, [0, 2.5], [
  ...[sc1, sc2, scSum].map((s, i) => Plot.line(s, {...pair, stroke: scColors[i], strokeWidth: scWidths[i], clip: true})),
  Plot.frame({strokeWidth: 1.3}),
  Plot.ruleY([0], {strokeWidth: 2.6}),
  ...xTicks("top"), ...xTicks("bottom"),
  yTicks(yTicksA, "left", 5), yTicks(yTicksA, "right", 6),
  yLabels(yTicksA, "left", 17, -15)
]);

// panel (b)
addPanel(218, 215, 12, 12, [0, 3], [
  ...[rh1, rh2, rhSum].map((s, i) => Plot.line(s, {...pair, stroke: rhColors[i], strokeWidth: rhWidths[i], clip: true})),
  Plot.frame({strokeWidth: 1.3}),
  Plot.ruleY([0], {strokeWidth: 2.6}),
  ...xTicks("top"), ...xTicks("bottom"),
  yTicks(yTicksB, "left", 5), yTicks(yTicksB, "right", 6),
  yLabels(yTicksB, "left", 42, 0)
]);

// panel (c), left axis: individual Sn sites
addPanel(409, 299, 12, 59, [0, 0.6], [
  ...[sn1, sn2, sn3, sn4, sn5, sn6].map((s, i) => Plot.line(s, {...pair, stroke: snColors[i], strokeWidth: 1.6, clip: true})),
  Plot.frame({strokeWidth: 1.3}),
  ...xTicks("top"), ...xTicks("bottom"),
  Plot.axisX({anchor: "bottom", ticks: eMajor, tickSize: 0, tickPadding: 17, tickFormat: d => String(d),
    fontSize: FS, fontFamily: FONT, label: null}),
  yTicks(yTicksC, "left", 5),
  yLabels(yTicksC, "left", 7, 5)
]);

// panel (c), right axis: Sn sum (shares the E axis drawn above)
addPanel(409, 299, 12, 59, [-0.2, 0.4], [
  Plot.line(snSum, {...pair, stroke: colors.sumBlue, strokeWidth: 2, clip: true}),
  Plot.arrow(snSumArrow, {x1: "x1", x2: "x2", y1: "y", y2: "y", stroke: colors.sumBlue, strokeWidth: 2,
    headLength: 12, headAngle: 35}),
  yTicks(yTicksCR, "right", 6),
  yLabels(yTicksCR, "right", 12, 0)
], false);

// ---------- legends, panel tags and axis titles ----------
const ov = d3.select(chart).append("svg")
  .attr("width", W).attr("height", H)
  .style("top", "0px")
  .attr("font-family", FONT).attr("font-size", FS);

function legend(names, cols, widths, x0, x1, tx, ys) {
  names.forEach((name, i) => {
    ov.append("line").attr("x1", x0).attr("x2", x1).attr("y1", ys[i]).attr("y2", ys[i])
      .attr("stroke", cols[i]).attr("stroke-width", widths[i]);
    ov.append("text").attr("x", tx).attr("y", ys[i]).attr("dy", "0.35em")
      .attr("fill", cols[i]).text(name);
  });
}
legend(scNames, scColors, [2.4, 2.6, 2.6], 238, 276, 280, [69, 98, 127]);
legend(rhNames, rhColors, [3.6, 2, 2.4], 350, 388, 392, [257, 286, 314]);
legend(snNames.slice(0, 3), snColors.slice(0, 3), [2.2, 2.2, 2.2], 269, 305, 310, [440, 462, 484]);
legend(snNames.slice(3), snColors.slice(3), [2.2, 2.2, 2.2], 376, 412, 417, [440, 462, 484]);
legend([snSumName], [colors.sumBlue], [2.2], 332, 368, 373, [507]);

[[130, 72], [133, 262], [133, 448]].forEach(([x, y], i) => {
  ov.append("text").attr("x", x).attr("y", y).attr("dy", "0.35em").text(panelTags[i]);
});

ov.append("text").attr("transform", "translate(21,325) rotate(-90)")
  .attr("text-anchor", "middle").attr("dy", "0.35em").text(yTitle);
ov.append("text").attr("transform", "translate(548,338) rotate(90)")
  .attr("text-anchor", "middle").attr("dy", "0.35em").text(yTitle);
ov.append("text").attr("x", 300).attr("y", 697).attr("text-anchor", "middle")
  .attr("dy", "0.35em").text(xTitle);
</script>
</body>
</html>
